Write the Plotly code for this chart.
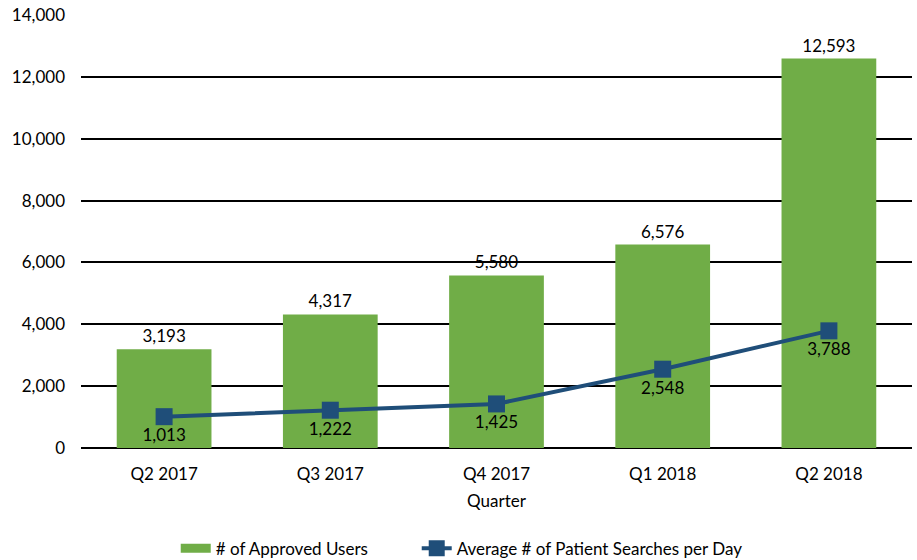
import plotly.graph_objects as go

quarters = ["Q2 2017", "Q3 2017", "Q4 2017", "Q1 2018", "Q2 2018"]
approved_users = [3193, 4317, 5580, 6576, 12593]
searches_per_day = [1013, 1222, 1425, 2548, 3788]

green = "#70AD47"
navy = "#1F4E79"

fig = go.Figure()
fig.add_trace(go.Bar(
    x=quarters, y=approved_users, name="# of Approved Users",
    marker=dict(color=green, line=dict(width=0)),
    text=[f"{v:,}" for v in approved_users], textposition="outside",
    textfont=dict(size=17, color="black"), cliponaxis=False,
    showlegend=False,
))
# wide green swatch for the legend, like the Excel one
fig.add_trace(go.Scatter(
    x=[None], y=[None], mode="lines", name="# of Approved Users",
    line=dict(color=green, width=9),
))
fig.add_trace(go.Scatter(
    x=quarters, y=searches_per_day, name="Average # of Patient Searches per Day",
    mode="lines+markers+text", legend="legend2",
    line=dict(color=navy, width=4),
    marker=dict(symbol="square", size=17, color=navy),
    text=[f"{v:,}" for v in searches_per_day], textposition="bottom center",
    textfont=dict(size=17, color="black"),
))

fig.update_layout(
    width=917, height=560,
    margin=dict(l=81, r=5, t=15, b=112, autoexpand=False),
    plot_bgcolor="white", paper_bgcolor="white",
    font=dict(family="Lato, Carlito, sans-serif", size=17, color="black"),
    bargap=0.43,
    showlegend=True,
    legend=dict(orientation="h", x=0.114, xanchor="left",
                yref="container", y=0.02, yanchor="middle", font=dict(size=17)),
    legend2=dict(orientation="h", x=0.404, xanchor="left",
                 yref="container", y=0.02, yanchor="middle", font=dict(size=17)),
)
fig.update_yaxes(range=[0, 14000], dtick=2000, tickformat=",",
                 showgrid=True, gridcolor="black", gridwidth=1.5,
                 zeroline=True, zerolinecolor="black", zerolinewidth=1.5,
                 ticks="", ticklabelstandoff=15, automargin=False,
                 ticklabeloverflow="allow", tickfont=dict(size=17))
fig.update_xaxes(title=dict(text="Quarter", standoff=12, font=dict(size=17)), ticks="",
                 showline=False, ticklabelstandoff=14, automargin=False,
                 tickfont=dict(size=17))
# drop the default 8px page margin so the figure fills the window
fig.write_html("out.html", config={"displayModeBar": False},
               post_script="document.body.style.margin = '0';")
